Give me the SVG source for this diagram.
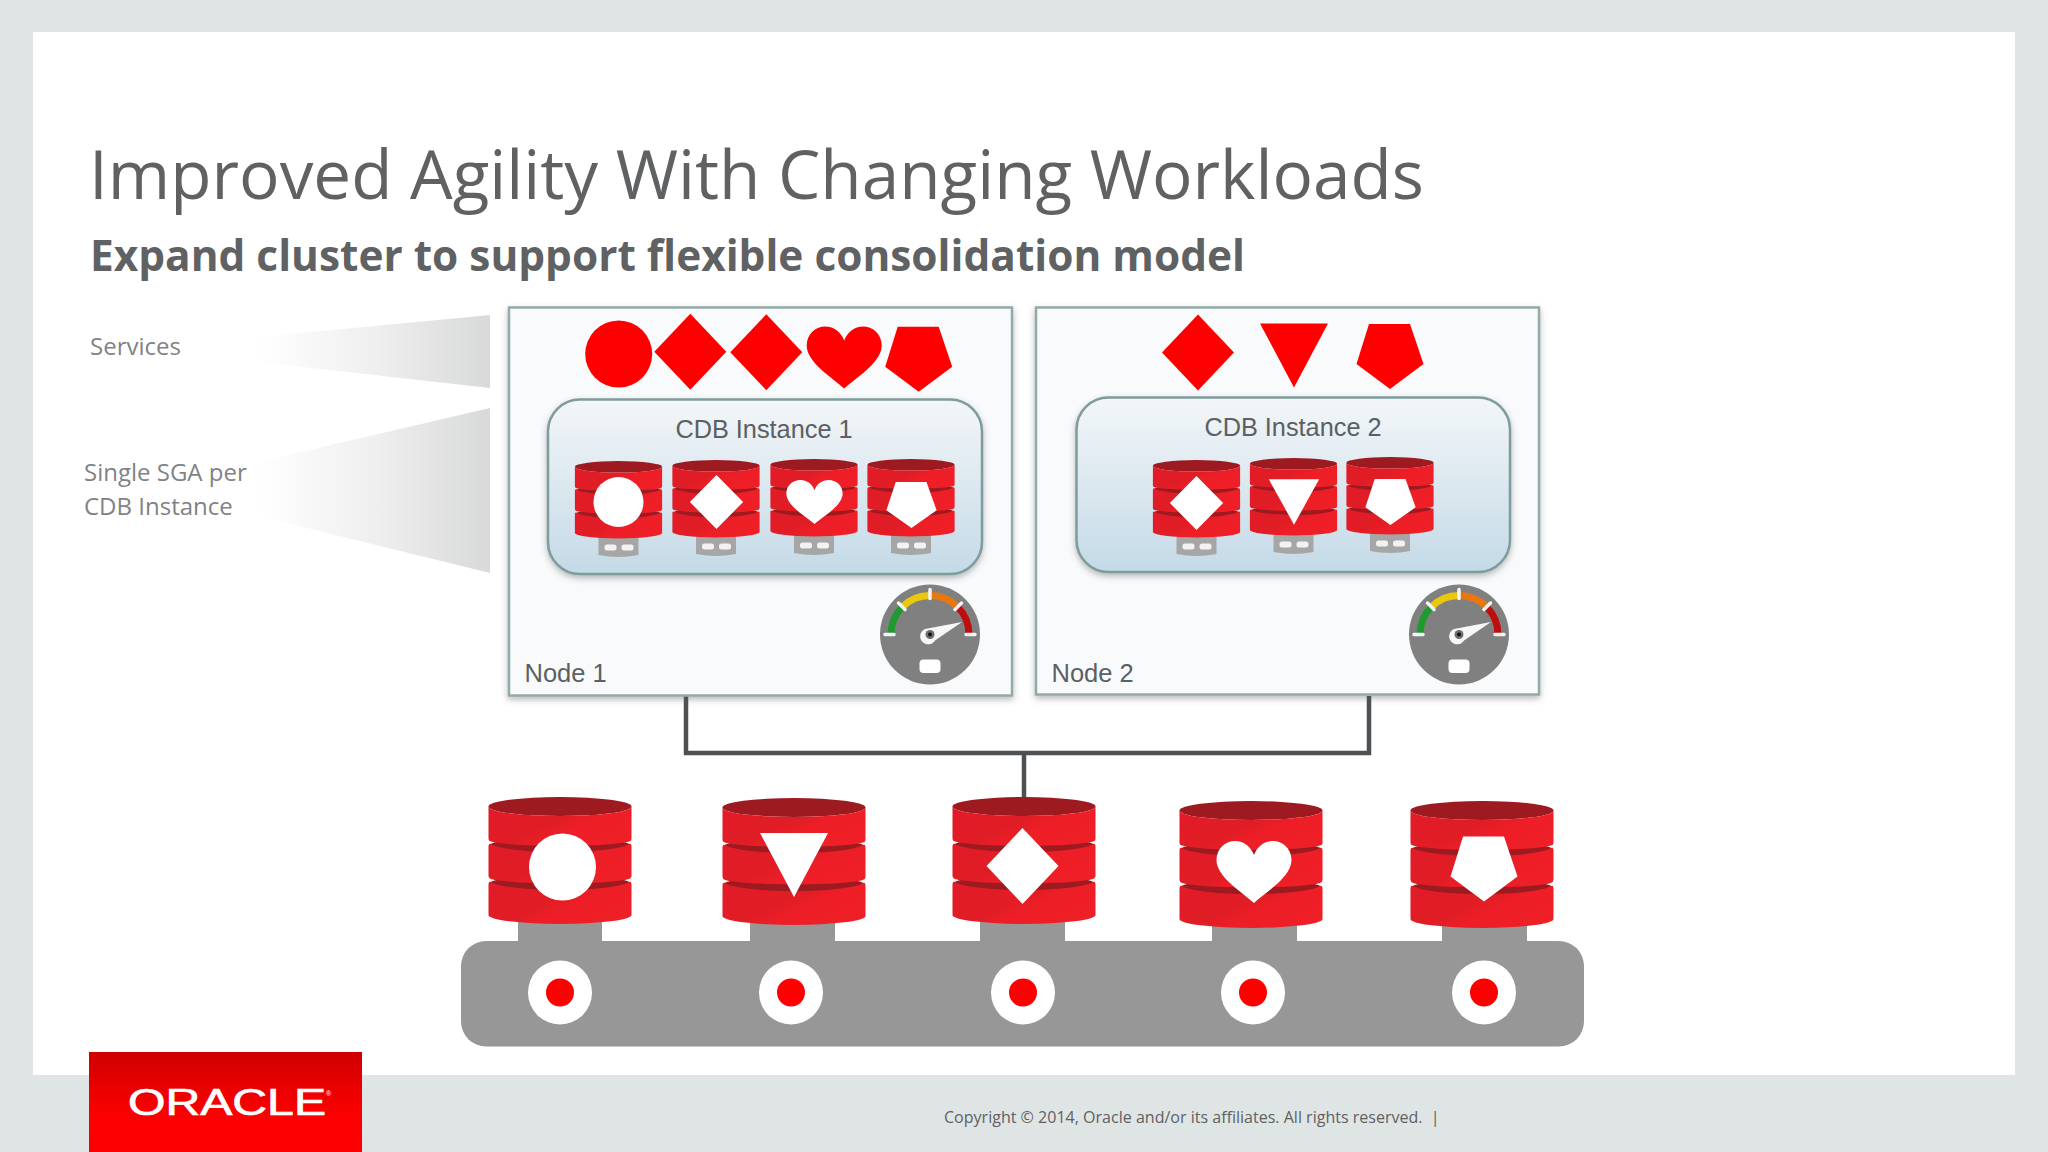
<svg xmlns="http://www.w3.org/2000/svg" xmlns:xlink="http://www.w3.org/1999/xlink" width="2048" height="1152" viewBox="0 0 2048 1152">
<style>
.title{font-family:"Open Sans","Liberation Sans",sans-serif;fill:#5f6163}
.lab{font-family:"Open Sans","Liberation Sans",sans-serif;font-size:24px;fill:#7f8385}
.ar{font-family:"Liberation Sans",Arial,sans-serif;fill:#5a6063}
.node{fill:#f9fafc;stroke:#93aaa8;stroke-width:2.5}
.inst{fill:url(#instG);stroke:#7f9c9c;stroke-width:2.5}
.red{fill:#ff0000}
.wht{fill:#fff}
.wire{fill:none;stroke:#4d5154;stroke-width:4.5}
</style>
<defs>
<linearGradient id="instG" x1="0" y1="0" x2="0" y2="1"><stop offset="0" stop-color="#f3f6f8"/><stop offset="1" stop-color="#c4dae7"/></linearGradient>
<linearGradient id="wedge" x1="0" y1="0" x2="1" y2="0"><stop offset="0" stop-color="#fff"/><stop offset="0.5" stop-color="#efefef"/><stop offset="1" stop-color="#d8d9d9"/></linearGradient>
<linearGradient id="logoG" x1="0" y1="0" x2="0" y2="1"><stop offset="0" stop-color="#cf0000"/><stop offset="0.6" stop-color="#fb0000"/><stop offset="1" stop-color="#ff0000"/></linearGradient>
<linearGradient id="dbG" x1="0" y1="0" x2="1" y2="0.6"><stop offset="0" stop-color="#e21b28"/><stop offset="0.5" stop-color="#e01d25"/><stop offset="0.7" stop-color="#ee1e27"/><stop offset="1" stop-color="#ee1f27"/></linearGradient>
<filter id="sh" x="-5%" y="-5%" width="110%" height="115%"><feDropShadow dx="0" dy="3" stdDeviation="3" flood-color="#555" flood-opacity="0.4"/></filter>
<path id="heart" d="M0,31C-12,20-37.500,5-37.500,-12C-37.500,-24-28,-31-19,-31C-10,-31-3,-25 0,-17C3,-25 10,-31 19,-31C28,-31 37.500,-24 37.500,-12C37.500,5 12,20 0,31Z"/>
<polygon id="penta" points="-21,-32.500 20,-32.500 33.500,7.500 0,32.500 -33.500,7.500"/>
<polygon id="diam" points="0,-38 36,0 0,38 -36,0"/>
<polygon id="tri" points="-34,-32 34,-32 0,32"/>
<g id="db">
<ellipse cx="0" cy="9.500" rx="71.500" ry="9.500" fill="#9d1a20"/>
<ellipse cx="0" cy="49" rx="71" ry="9" fill="#9d1a20"/>
<ellipse cx="0" cy="87" rx="71" ry="9" fill="#9d1a20"/>
<path d="M-71.500,9.500A71.500,9.500 0 0 0 71.500,9.500V42Q71.500,44 69,44.500A71.500,6 0 0 1 -69,44.500Q-71.500,44 -71.500,42Z" fill="url(#dbG)"/>
<path d="M-71.500,49Q-71.500,47 -70,46.500A71.500,11 0 0 0 70,46.500Q71.500,47 71.500,49V79Q71.500,81 69,82A71.500,6 0 0 1 -69,82Q-71.500,81 -71.500,79Z" fill="url(#dbG)"/>
<path d="M-71.500,87Q-71.500,85 -70,84.500A71.500,11 0 0 0 70,84.500Q71.500,85 71.500,87V118A71.500,9 0 0 1 -71.500,118Z" fill="url(#dbG)"/>
</g>
<g id="sdb">
<path d="M-20,72H20V94Q0,98-20,94Z" fill="#a6a6a6"/>
<use xlink:href="#db" href="#db" transform="scale(.61)"/>
<rect x="-14" y="83.500" width="12" height="6" rx="2.500" fill="#f2f2f2"/>
<rect x="3" y="83.500" width="12" height="6" rx="2.500" fill="#f2f2f2"/>
</g>
<g id="gauge">
<circle r="50" fill="#808080"/>
<g fill="none" stroke-width="7">
<path d="M-39,0A39,39 0 0 1 -27.600,-27.600" stroke="#1e9a2e"/>
<path d="M-27.600,-27.600A39,39 0 0 1 0,-39" stroke="#eac80c"/>
<path d="M0,-39A39,39 0 0 1 27.600,-27.600" stroke="#e9760f"/>
<path d="M27.600,-27.600A39,39 0 0 1 39,0" stroke="#bf0d0d"/>
</g>
<g stroke="#f5f5f5" stroke-width="3.500" stroke-linecap="round">
<path d="M-45,0H-36M36,0H45M0,-45V-36M-31.500,-31.500L-25,-25M31.500,-31.500L25,-25"/>
</g>
<path d="M-5,-5.500L32,-12.500L5,6A8,8 0 1 1 -5,-5.500Z" fill="#f7f7f7"/>
<circle r="4.500" fill="#6e6e6e"/><circle r="2" fill="#111"/>
<rect x="-10.500" y="25" width="21" height="13.500" rx="4" fill="#fff"/>
</g>
</defs>

<rect width="2048" height="1152" fill="#dfe5e4"/>
<rect x="33" y="32" width="1982" height="1043" fill="#fff"/>

<text class="title" x="89" y="199" font-size="67.500" textLength="1335" lengthAdjust="spacingAndGlyphs">Improved Agility With Changing Workloads</text>
<text class="title" x="90" y="271" font-size="43" font-weight="700" textLength="1155" lengthAdjust="spacingAndGlyphs">Expand cluster to support flexible consolidation model</text>
<text class="lab" x="90" y="355">Services</text>
<text class="lab" x="84" y="481">Single SGA per</text>
<text class="lab" x="84" y="515">CDB Instance</text>
<polygon points="258,337 490,315 490,388 258,362" fill="url(#wedge)"/>
<polygon points="258,462 490,408 490,573 258,516" fill="url(#wedge)"/>

<g id="connectors">
<path class="wire" d="M686,696V753H1369V696M1024,753V802"/>
</g>

<g id="node1">
<rect class="node" x="509" y="307.500" width="503" height="388" filter="url(#sh)"/>
<circle class="red" cx="618.700" cy="354" r="33.500"/>
<use class="red" href="#diam" transform="translate(690.300,351.700)"/>
<use class="red" href="#diam" transform="translate(766.300,352.300)"/>
<use class="red" href="#heart" transform="translate(844.200,357.500)"/>
<use class="red" href="#penta" transform="translate(918.700,359.200)"/>
<text class="ar" x="524.500" y="682" font-size="25.500">Node 1</text>
<use href="#gauge" transform="translate(930,634.500)"/>
</g>
<g id="instance1">
<rect class="inst" x="548" y="399.500" width="434" height="174.500" rx="32" filter="url(#sh)"/>
<text class="ar" x="764" y="438" font-size="25.300" text-anchor="middle">CDB Instance 1</text>
<use href="#sdb" transform="translate(618.500,461)"/>
<use href="#sdb" transform="translate(716,460)"/>
<use href="#sdb" transform="translate(814,459)"/>
<use href="#sdb" transform="translate(911,459)"/>
<circle class="wht" cx="618.500" cy="502" r="25"/>
<use class="wht" href="#diam" transform="translate(716.500,502) scale(.74,.71)"/>
<use class="wht" href="#heart" transform="translate(814.500,502) scale(.75,.71)"/>
<use class="wht" href="#penta" transform="translate(911.500,505) scale(.75,.71)"/>
</g>

<g id="node2">
<rect class="node" x="1036" y="307.500" width="503" height="387" filter="url(#sh)"/>
<use class="red" href="#diam" transform="translate(1198,352.500)"/>
<use class="red" href="#tri" transform="translate(1294,355.500)"/>
<use class="red" href="#penta" transform="translate(1390,356.500)"/>
<text class="ar" x="1051.500" y="682" font-size="25.500">Node 2</text>
<use href="#gauge" transform="translate(1459,634.500)"/>
</g>
<g id="instance2">
<rect class="inst" x="1076.500" y="397.500" width="433.500" height="174.500" rx="32" filter="url(#sh)"/>
<text class="ar" x="1293" y="436" font-size="25.300" text-anchor="middle">CDB Instance 2</text>
<use href="#sdb" transform="translate(1196.500,460)"/>
<use href="#sdb" transform="translate(1293.500,458)"/>
<use href="#sdb" transform="translate(1390,457)"/>
<use class="wht" href="#diam" transform="translate(1196.500,503) scale(.74,.71)"/>
<use class="wht" href="#tri" transform="translate(1294,502) scale(.74,.71)"/>
<use class="wht" href="#penta" transform="translate(1390.500,502) scale(.75,.71)"/>
</g>

<g id="storage">
<rect x="461" y="941" width="1123" height="105.500" rx="25" fill="#979798"/>
<rect x="518" y="915" width="84" height="30" fill="#979798"/>
<rect x="750" y="915" width="85" height="30" fill="#979798"/>
<rect x="980" y="915" width="85" height="30" fill="#979798"/>
<rect x="1212" y="915" width="85" height="30" fill="#979798"/>
<rect x="1442" y="915" width="85" height="30" fill="#979798"/>
<g id="disk1"><use href="#db" transform="translate(560,797)"/><circle class="wht" cx="562.500" cy="867" r="33.500"/><circle class="wht" cx="560" cy="992.500" r="32"/><circle class="red" cx="560" cy="992.500" r="14"/></g>
<g id="disk2"><use href="#db" transform="translate(794,798)"/><use class="wht" href="#tri" transform="translate(794,865)"/><circle class="wht" cx="791" cy="992.500" r="32"/><circle class="red" cx="791" cy="992.500" r="14"/></g>
<g id="disk3"><use href="#db" transform="translate(1024,797)"/><use class="wht" href="#diam" transform="translate(1022.500,866)"/><circle class="wht" cx="1023" cy="992.500" r="32"/><circle class="red" cx="1023" cy="992.500" r="14"/></g>
<g id="disk4"><use href="#db" transform="translate(1251,801)"/><use class="wht" href="#heart" transform="translate(1254,872)"/><circle class="wht" cx="1253" cy="992.500" r="32"/><circle class="red" cx="1253" cy="992.500" r="14"/></g>
<g id="disk5"><use href="#db" transform="translate(1482,801)"/><use class="wht" href="#penta" transform="translate(1484,869)"/><circle class="wht" cx="1484" cy="992.500" r="32"/><circle class="red" cx="1484" cy="992.500" r="14"/></g>
</g>

<g id="logo">
<rect x="89" y="1052" width="273" height="100" fill="url(#logoG)"/>
<text x="128" y="1115" font-family="'Liberation Sans',Arial,sans-serif" font-size="36" fill="#fff" stroke="#fff" stroke-width="0.7" textLength="198" lengthAdjust="spacingAndGlyphs">ORACLE</text>
<text x="326" y="1096" font-family="'Liberation Sans',Arial,sans-serif" font-size="7" fill="#fff">®</text>
</g>
<text class="title" x="944" y="1123" font-size="16.050" xml:space="preserve">Copyright © 2014, Oracle and/or its affiliates. All rights reserved.  |</text>
</svg>
